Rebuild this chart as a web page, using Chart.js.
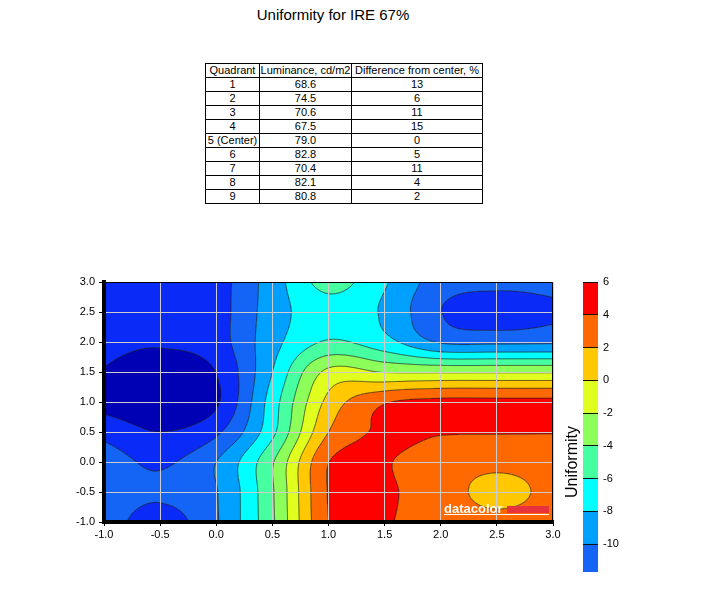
<!DOCTYPE html>
<html>
<head>
<meta charset="utf-8">
<title>Uniformity for IRE 67%</title>
<script src="https://cdn.jsdelivr.net/npm/chart.js@4.4.1/dist/chart.umd.min.js"></script>
<style>
  body { margin: 0; background: #fff; font-family: Arial, "Liberation Sans", sans-serif; }
  #page { position: relative; width: 712px; height: 595px; overflow: hidden; }
  #title { position: absolute; left: 0; top: 6px; width: 666px; text-align: center; font-size: 15px; color: #000; }
  #tbl { position: absolute; left: 205px; top: 63px; border-collapse: collapse; font-size: 11px; color: #000; }
  #tbl td { border: 1px solid #000; padding: 0; height: 13px; line-height: 13px; text-align: center; white-space: nowrap; }
  #main { position: absolute; left: 0; top: 270px; }
  #bar { position: absolute; left: 560px; top: 270px; }
  #barTitle { position: absolute; left: 572px; top: 462px; transform: translate(-50%, -50%) rotate(-90deg);
              font-size: 16px; white-space: nowrap; color: #000; }
</style>
</head>
<body>
<div id="page">
  <div id="title">Uniformity for IRE 67%</div>
  <table id="tbl"></table>
  <canvas id="main" width="580" height="290"></canvas>
  <canvas id="bar" width="80" height="315"></canvas>
  <div id="barTitle">Uniformity</div>
</div>
<script>
// table values
const quadrants = ['1', '2', '3', '4', '5 (Center)', '6', '7', '8', '9'];
const luminance = [68.6, 74.5, 70.6, 67.5, 79.0, 82.8, 70.4, 82.1, 80.8];
const difference = [13, 6, 11, 15, 0, 5, 11, 4, 2];

// contour grid (rows from y = 3 down to y = -1)
const xValues = [-1, -0.5, 0, 0.5, 1, 1.5, 2, 2.5, 3];
const yValues = [3, 2.5, 2, 1.5, 1, 0.5, 0, -0.5, -1];
const uniformity = [
  [-13.0, -13.2, -12.8, -9.0, -5.3, -7.8, -11.0, -11.4, -11.3],
  [-13.2, -13.4, -12.8, -9.0, -6.8, -8.3, -11.95, -13.0, -12.3],
  [-13.5, -13.8, -12.9, -8.7, -5.8, -7.3, -10.2, -10.4, -10.3],
  [-14.1, -15.0, -13.95, -8.0, -1.5, -2.1, -2.2, -2.2, -2.2],
  [-14.7, -15.5, -14.3, -7.0, 0.6, 3.8, 4.5, 4.5, 4.5],
  [-12.6, -14.0, -12.4, -6.5, 2.0, 4.3, 4.1, 4.08, 4.05],
  [-11.0, -12.3, -10.0, -4.2, 3.95, 4.1, 3.0, 2.6, 3.0],
  [-11.0, -11.7, -10.1, -4.2, 4.1, 4.2, 3.0, 1.3, 2.7],
  [-11.0, -12.9, -10.2, -4.3, 4.0, 4.1, 3.2, 2.8, 3.1]
];

// contour levels and the fill colour of each band (band 0 is below the first level)
const levels = [-14, -12, -10, -8, -6, -4, -2, 0, 2, 4];
const bandColors = ['#0000B4', '#0A2AF8', '#1464F5', '#00A0FF', '#00FFFF', '#46FFA0',
                    '#8CFF5A', '#E1FF1E', '#FFC800', '#FF6900', '#FF0000'];
const colorbarMin = -11.7;
const colorbarMax = 6;

// build the table
const tbl = document.getElementById('tbl');
const head = tbl.insertRow();
['Quadrant', 'Luminance, cd/m2', 'Difference from center, %'].forEach(function (t, k) {
  const c = head.insertCell();
  c.textContent = t;
  c.style.width = [53, 91, 130][k] + 'px';
});
quadrants.forEach(function (q, i) {
  const r = tbl.insertRow();
  r.insertCell().textContent = q;
  r.insertCell().textContent = luminance[i].toFixed(1);
  r.insertCell().textContent = difference[i];
});

Chart.defaults.font.family = 'Arial, "Liberation Sans", sans-serif';
Chart.defaults.color = '#000';

// grid padded by one node on every side (linear extrapolation) for bicubic sampling
const nx = xValues.length, ny = yValues.length;
function nodeValue(i, j) {
  if (i < 0) return 2 * nodeValue(0, j) - nodeValue(1, j);
  if (i >= nx) return 2 * nodeValue(nx - 1, j) - nodeValue(nx - 2, j);
  if (j < 0) return 2 * nodeValue(i, 0) - nodeValue(i, 1);
  if (j >= ny) return 2 * nodeValue(i, ny - 1) - nodeValue(i, ny - 2);
  return uniformity[j][i];
}
const padded = [];
for (let j = -1; j <= ny; j++) {
  const row = [];
  for (let i = -1; i <= nx; i++) row.push(nodeValue(i, j));
  padded.push(row);
}
function cubic(p0, p1, p2, p3, t) {
  return p1 + 0.5 * t * (p2 - p0 + t * (2 * p0 - 5 * p1 + 4 * p2 - p3 + t * (3 * (p1 - p2) + p3 - p0)));
}
function valueAt(x, y) {
  const fx = (x - xValues[0]) / (xValues[1] - xValues[0]);
  const fy = (y - yValues[0]) / (yValues[1] - yValues[0]);
  const i = Math.min(Math.max(Math.floor(fx), 0), nx - 2);
  const j = Math.min(Math.max(Math.floor(fy), 0), ny - 2);
  const tx = fx - i, ty = fy - j;
  const col = [];
  for (let m = 0; m < 4; m++) {
    const r = padded[j + m];
    col.push(cubic(r[i], r[i + 1], r[i + 2], r[i + 3], tx));
  }
  return cubic(col[0], col[1], col[2], col[3], ty);
}
function bandOf(v) {
  let b = 0;
  while (b < levels.length && v >= levels[b]) b++;
  return b;
}
const bandRgb = bandColors.map(function (h) {
  return [parseInt(h.slice(1, 3), 16), parseInt(h.slice(3, 5), 16), parseInt(h.slice(5, 7), 16)];
});

const contourPlugin = {
  id: 'contour',
  beforeDatasetsDraw(chart) {
    const ctx = chart.ctx, a = chart.chartArea;
    const xs = chart.scales.x, ys = chart.scales.y;
    const w = Math.round(a.right - a.left), h = Math.round(a.bottom - a.top);
    const vals = new Float32Array(w * h);
    const off = document.createElement('canvas');
    off.width = w; off.height = h;
    const octx = off.getContext('2d');
    const img = octx.createImageData(w, h);
    for (let py = 0; py < h; py++) {
      const vy = ys.getValueForPixel(a.top + py + 0.5);
      for (let px = 0; px < w; px++) {
        const vx = xs.getValueForPixel(a.left + px + 0.5);
        const v = valueAt(vx, vy);
        const k = py * w + px;
        vals[k] = v;
        const c = bandRgb[bandOf(v)];
        img.data[k * 4] = c[0];
        img.data[k * 4 + 1] = c[1];
        img.data[k * 4 + 2] = c[2];
        img.data[k * 4 + 3] = 255;
      }
    }
    octx.putImageData(img, 0, 0);
    ctx.drawImage(off, a.left, a.top);

    // contour lines (marching squares between pixel centres)
    ctx.save();
    ctx.beginPath();
    const ox = a.left + 0.5, oy = a.top + 0.5;
    levels.forEach(function (L) {
      for (let py = 0; py < h - 1; py++) {
        for (let px = 0; px < w - 1; px++) {
          const v0 = vals[py * w + px], v1 = vals[py * w + px + 1];
          const v2 = vals[(py + 1) * w + px + 1], v3 = vals[(py + 1) * w + px];
          const pts = [];
          if ((v0 - L) * (v1 - L) < 0) pts.push([px + (L - v0) / (v1 - v0), py]);
          if ((v1 - L) * (v2 - L) < 0) pts.push([px + 1, py + (L - v1) / (v2 - v1)]);
          if ((v3 - L) * (v2 - L) < 0) pts.push([px + (L - v3) / (v2 - v3), py + 1]);
          if ((v0 - L) * (v3 - L) < 0) pts.push([px, py + (L - v0) / (v3 - v0)]);
          for (let s = 0; s + 1 < pts.length; s += 2) {
            ctx.moveTo(ox + pts[s][0], oy + pts[s][1]);
            ctx.lineTo(ox + pts[s + 1][0], oy + pts[s + 1][1]);
          }
        }
      }
    });
    ctx.strokeStyle = 'rgba(35,35,35,0.85)';
    ctx.lineWidth = 0.9;
    ctx.stroke();
    ctx.restore();
  },
  afterDraw(chart) {
    const ctx = chart.ctx, a = chart.chartArea;
    ctx.save();
    // thin frame on top and right
    ctx.strokeStyle = '#000';
    ctx.lineWidth = 1;
    ctx.beginPath();
    ctx.moveTo(a.left, a.top + 0.5);
    ctx.lineTo(a.right - 0.5, a.top + 0.5);
    ctx.lineTo(a.right - 0.5, a.bottom);
    ctx.stroke();
    // datacolor logo
    ctx.fillStyle = '#fff';
    ctx.font = 'bold 13px Arial, "Liberation Sans", sans-serif';
    ctx.textBaseline = 'alphabetic';
    ctx.fillText('datacolor', a.right - 109, a.bottom - 9);
    ctx.fillStyle = '#E8323C';
    ctx.fillRect(a.right - 46, a.bottom - 16, 42, 7);
    ctx.fillStyle = '#fff';
    ctx.fillRect(a.right - 109, a.bottom - 8, 105, 1);
    ctx.restore();
  }
};

// grid nodes as an (invisible) dataset
const nodes = [];
yValues.forEach(function (y, j) {
  xValues.forEach(function (x, i) { nodes.push({ x: x, y: y, v: uniformity[j][i] }); });
});

new Chart(document.getElementById('main'), {
  type: 'scatter',
  data: { datasets: [{ data: nodes, pointRadius: 0, pointHoverRadius: 0 }] },
  options: {
    responsive: false,
    animation: false,
    events: [],
    layout: { padding: { top: 12, right: 27, left: 0, bottom: 0 } },
    plugins: { legend: { display: false }, tooltip: { enabled: false } },
    scales: {
      x: {
        type: 'linear', min: -1, max: 3,
        ticks: { stepSize: 0.5, callback: v => v.toFixed(1), font: { size: 11 }, padding: 2, maxRotation: 0, autoSkip: false },
        grid: { color: '#CCCCCC', tickColor: '#000', tickLength: 4, z: 1 },
        border: { color: '#000', width: 4, z: 2 },
        afterFit: s => { s.height = 38; }
      },
      y: {
        type: 'linear', min: -1, max: 3,
        ticks: { stepSize: 0.5, callback: v => v.toFixed(1), font: { size: 11 }, padding: 4, autoSkip: false },
        grid: { color: '#CCCCCC', tickColor: '#000', tickLength: 5, z: 1 },
        border: { color: '#000', width: 4, z: 2 },
        afterFit: s => { s.width = 104; }
      }
    }
  },
  plugins: [contourPlugin]
});

// colour bar: one floating bar per band
const barSets = [];
for (let k = 2; k < bandColors.length; k++) {
  const lo = Math.max(levels[k - 1], colorbarMin);
  const hi = k < levels.length ? levels[k] : colorbarMax;
  barSets.push({
    data: [[lo, Math.min(hi, colorbarMax)]],
    backgroundColor: bandColors[k],
    borderWidth: 0,
    grouped: false,
    barPercentage: 1,
    categoryPercentage: 1
  });
}
new Chart(document.getElementById('bar'), {
  type: 'bar',
  data: { labels: ['Uniformity'], datasets: barSets },
  options: {
    responsive: false,
    animation: false,
    events: [],
    layout: { padding: { top: 12, left: 23, bottom: 13, right: 0 } },
    plugins: { legend: { display: false }, tooltip: { enabled: false } },
    scales: {
      x: { display: false },
      y: {
        position: 'right', min: colorbarMin, max: colorbarMax,
        ticks: { stepSize: 2, includeBounds: false, font: { size: 11 }, padding: 5 },
        grid: { color: '#111', drawTicks: false, z: 1 },
        border: { display: false },
        afterFit: s => { s.width = 42; }
      }
    }
  }
});
</script>
</body>
</html>
